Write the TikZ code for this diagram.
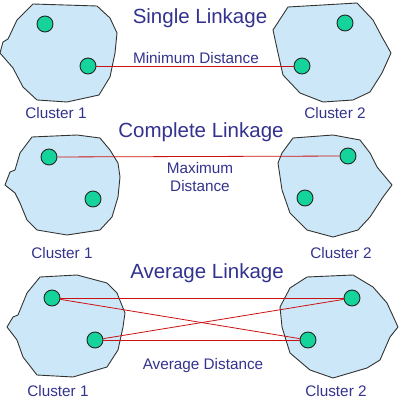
\documentclass[tikz,border=0pt]{standalone}
\usepackage{fontspec}
\setmainfont{Liberation Sans}
\definecolor{txtblue}{HTML}{33338F}
\definecolor{clfill}{HTML}{CCE8F8}
\definecolor{dotfill}{HTML}{14D39B}
\definecolor{linkred}{HTML}{CC1111}
\tikzset{
  cluster/.style={draw=black!80, fill=clfill, line width=0.9pt, line join=round},
  pt/.style={circle, draw=black!85, fill=dotfill, line width=0.9pt, minimum size=16pt, inner sep=0pt},
  link/.style={draw=linkred, line width=0.8pt},
  title/.style={text=txtblue, font=\fontsize{20.5}{22}\selectfont, inner sep=0pt},
  lbl/.style={text=txtblue, font=\fontsize{15.3}{18}\selectfont, inner sep=0pt, align=center},
}
\begin{document}
\begin{tikzpicture}[x=1pt,y=-1pt]
\useasboundingbox (0,0) rectangle (402,401);
\fill[white] (0,0) rectangle (402,401);
% ---- Single linkage ----
\path[cluster] (33,4) -- (97,6) -- (110,18) -- (117,33) -- (115,53) -- (110,77) -- (99,95) -- (67,102) -- (37,100) -- (23,87) -- (13,68) -- (0,53) -- (3,42) -- (8,39) -- (17,20) -- cycle;
\path[cluster] (288,7) -- (357,3) -- (373,20) -- (382,37) -- (391,53) -- (382,73) -- (370,92) -- (353,100) -- (323,102) -- (300,93) -- (283,75) -- (278,53) -- (273,30) -- cycle;
\node[pt] (sa1) at (45,24) {};
\node[pt] (sa2) at (88,66) {};
\node[pt] (sb1) at (345,23) {};
\node[pt] (sb2) at (302,66) {};
\draw[link] (sa2) -- (sb2);
\node[title] (t1) at (200,18) {Single Linkage};
\node[lbl] (d1) at (196,58) {Minimum Distance};
\node[lbl] (c11) at (56,113) {Cluster 1};
\node[lbl] (c12) at (335,113) {Cluster 2};
% ---- Complete linkage ----
\path[cluster] (32,137) -- (77,135) -- (100,138) -- (110,150) -- (118,163) -- (120,177) -- (118,197) -- (112,217) -- (100,230) -- (67,235) -- (37,230) -- (27,220) -- (20,203) -- (15,193) -- (5,185) -- (10,172) -- (15,170) -- (20,153) -- cycle;
\path[cluster] (293,138) -- (333,135) -- (360,140) -- (370,153) -- (377,167) -- (392,185) -- (383,197) -- (370,217) -- (358,230) -- (333,237) -- (307,230) -- (290,213) -- (282,190) -- (278,163) -- (282,153) -- cycle;
\node[pt] (ca1) at (49,157) {};
\node[pt] (ca2) at (93,199) {};
\node[pt] (cb1) at (348,156) {};
\node[pt] (cb2) at (305,198) {};
\draw[link] (ca1) -- (cb1);
\node[title] (t2) at (201,132) {Complete Linkage};
\node[lbl] (d2) at (200,177) {Maximum\\[0pt]Distance};
\node[lbl] (c21) at (62,253) {Cluster 1};
\node[lbl] (c22) at (341,253) {Cluster 2};
% ---- Average linkage ----
\path[cluster] (40,277) -- (77,275) -- (107,283) -- (117,293) -- (125,313) -- (123,327) -- (118,350) -- (107,367) -- (73,377) -- (37,375) -- (23,357) -- (17,340) -- (7,327) -- (13,317) -- (18,315) -- (27,293) -- cycle;
\path[cluster] (290,288) -- (307,277) -- (353,275) -- (373,287) -- (387,303) -- (398,327) -- (390,337) -- (380,360) -- (367,368) -- (333,378) -- (310,370) -- (290,353) -- (282,327) -- (280,307) -- cycle;
\node[pt] (aa1) at (52,298) {};
\node[pt] (aa2) at (95,340) {};
\node[pt] (ab1) at (352,298) {};
\node[pt] (ab2) at (308,340) {};
\draw[link] (aa1) -- (ab1);
\draw[link] (aa1) -- (ab2);
\draw[link] (aa2) -- (ab1);
\draw[link] (aa2) -- (ab2);
\node[title] (t3) at (207,273) {Average Linkage};
\node[lbl] (d3) at (203,366) {Average Distance};
\node[lbl] (c31) at (58,391) {Cluster 1};
\node[lbl] (c32) at (336,391) {Cluster 2};
\end{tikzpicture}
\end{document}
